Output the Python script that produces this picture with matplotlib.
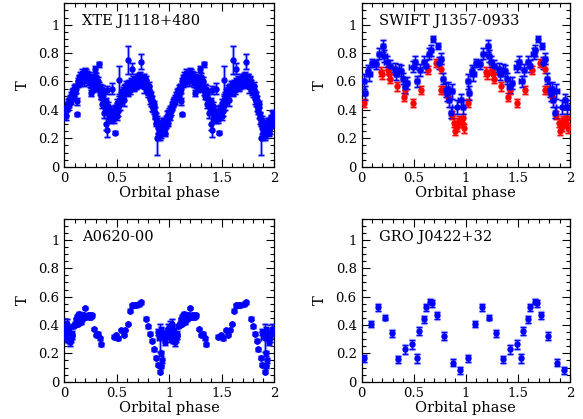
import matplotlib
matplotlib.use("Agg")
import matplotlib.pyplot as plt
import numpy as np
from matplotlib.ticker import MultipleLocator

# ---- XTE J1118+480 (phase 0-1, repeated for 1-2) ----
xte_phase_a = [0.00, 0.01, 0.02, 0.03, 0.04, 0.05, 0.06, 0.07, 0.08, 0.09,
               0.10, 0.11, 0.12, 0.13, 0.14, 0.15, 0.16, 0.17, 0.18, 0.19,
               0.20, 0.21, 0.22, 0.23, 0.24, 0.25, 0.26, 0.27, 0.28, 0.29,
               0.30, 0.31, 0.32, 0.33, 0.34, 0.35, 0.36, 0.37, 0.38, 0.39,
               0.40, 0.41, 0.42, 0.43, 0.44, 0.45, 0.46, 0.47, 0.48, 0.49,
               0.50, 0.51, 0.52, 0.53, 0.54, 0.55, 0.56, 0.57, 0.58, 0.59,
               0.60, 0.61, 0.62, 0.63, 0.64, 0.65, 0.66, 0.67, 0.68, 0.69,
               0.70, 0.71, 0.72, 0.73, 0.74, 0.75, 0.76, 0.77, 0.78, 0.79,
               0.80, 0.81, 0.82, 0.83, 0.84, 0.85, 0.86, 0.87, 0.88, 0.89,
               0.90, 0.91, 0.92, 0.93, 0.94, 0.95, 0.96, 0.97, 0.98, 0.99]
xte_T_a = [0.38, 0.36, 0.41, 0.42, 0.44, 0.47, 0.46, 0.49, 0.51, 0.50,
           0.53, 0.55, 0.37, 0.58, 0.61, 0.59, 0.63, 0.62, 0.65, 0.60,
           0.64, 0.66, 0.61, 0.63, 0.59, 0.52, 0.62, 0.60, 0.57, 0.69,
           0.63, 0.58, 0.60, 0.72, 0.55, 0.51, 0.44, 0.48, 0.38, 0.41,
           0.30, 0.26, 0.40, 0.36, 0.39, 0.55, 0.37, 0.34, 0.24, 0.38,
           0.36, 0.39, 0.61, 0.44, 0.48, 0.51, 0.53, 0.47, 0.55, 0.57,
           0.54, 0.75, 0.58, 0.56, 0.69, 0.59, 0.57, 0.60, 0.58, 0.62,
           0.60, 0.63, 0.59, 0.74, 0.61, 0.62, 0.56, 0.60, 0.58, 0.55,
           0.52, 0.54, 0.48, 0.46, 0.43, 0.40, 0.38, 0.34, 0.20, 0.27,
           0.24, 0.22, 0.28, 0.26, 0.30, 0.29, 0.27, 0.32, 0.35, 0.37]
xte_err_a = [0.03, 0.03, 0.02, 0.02, 0.02, 0.02, 0.02, 0.02, 0.02, 0.02,
             0.02, 0.03, 0.01, 0.02, 0.03, 0.02, 0.02, 0.02, 0.02, 0.03,
             0.02, 0.03, 0.02, 0.02, 0.03, 0.02, 0.03, 0.02, 0.03, 0.02,
             0.03, 0.02, 0.03, 0.02, 0.03, 0.03, 0.03, 0.03, 0.04, 0.03,
             0.04, 0.05, 0.03, 0.03, 0.04, 0.04, 0.03, 0.03, 0.01, 0.03,
             0.03, 0.03, 0.10, 0.04, 0.03, 0.03, 0.03, 0.04, 0.03, 0.03,
             0.03, 0.10, 0.03, 0.03, 0.04, 0.03, 0.03, 0.03, 0.03, 0.03,
             0.03, 0.03, 0.03, 0.05, 0.03, 0.03, 0.04, 0.03, 0.03, 0.03,
             0.03, 0.03, 0.04, 0.03, 0.04, 0.03, 0.04, 0.04, 0.12, 0.04,
             0.04, 0.03, 0.04, 0.04, 0.04, 0.05, 0.04, 0.04, 0.04, 0.03]
xte_phase_b = [0.005, 0.015, 0.025, 0.035, 0.045, 0.055, 0.065, 0.075, 0.085, 0.095,
               0.105, 0.115, 0.125, 0.135, 0.145, 0.155, 0.165, 0.175, 0.185, 0.195,
               0.205, 0.215, 0.225, 0.235, 0.245, 0.255, 0.265, 0.275, 0.285, 0.295,
               0.305, 0.315, 0.325, 0.335, 0.345, 0.355, 0.365, 0.375, 0.385, 0.395,
               0.405, 0.415, 0.425, 0.435, 0.445, 0.455, 0.465, 0.475, 0.485, 0.495,
               0.505, 0.515, 0.525, 0.535, 0.545, 0.555, 0.565, 0.575, 0.585, 0.595,
               0.605, 0.615, 0.625, 0.635, 0.645, 0.655, 0.665, 0.675, 0.685, 0.695,
               0.705, 0.715, 0.725, 0.735, 0.745, 0.755, 0.765, 0.775, 0.785, 0.795,
               0.805, 0.815, 0.825, 0.835, 0.845, 0.855, 0.865, 0.875, 0.885, 0.895,
               0.905, 0.915, 0.925, 0.935, 0.945, 0.955, 0.965, 0.975, 0.985, 0.995]
xte_T_b = [0.40, 0.39, 0.43, 0.45, 0.46, 0.48, 0.50, 0.52, 0.53, 0.55,
           0.56, 0.46, 0.60, 0.62, 0.64, 0.61, 0.66, 0.64, 0.62, 0.67,
           0.63, 0.65, 0.60, 0.64, 0.62, 0.58, 0.61, 0.55, 0.62, 0.59,
           0.61, 0.56, 0.57, 0.53, 0.50, 0.55, 0.52, 0.45, 0.42, 0.46,
           0.54, 0.43, 0.35, 0.38, 0.33, 0.36, 0.35, 0.37, 0.41, 0.40,
           0.45, 0.42, 0.47, 0.50, 0.52, 0.49, 0.55, 0.53, 0.56, 0.58,
           0.52, 0.57, 0.54, 0.60, 0.58, 0.61, 0.56, 0.59, 0.61, 0.58,
           0.62, 0.60, 0.64, 0.62, 0.58, 0.63, 0.59, 0.61, 0.56, 0.53,
           0.57, 0.51, 0.50, 0.47, 0.41, 0.44, 0.36, 0.31, 0.33, 0.21,
           0.29, 0.25, 0.23, 0.27, 0.32, 0.24, 0.30, 0.34, 0.31, 0.36]

# ---- SWIFT J1357-0933 ----
sw_blue_phase = [0.02, 0.03, 0.06, 0.07, 0.10, 0.14, 0.17, 0.21, 0.22, 0.24,
                 0.27, 0.32, 0.33, 0.36, 0.38, 0.40, 0.42, 0.44, 0.49, 0.51,
                 0.535, 0.56, 0.60, 0.62, 0.65, 0.665, 0.69, 0.73, 0.74, 0.76,
                 0.78, 0.81, 0.82, 0.83, 0.84, 0.86, 0.87, 0.92, 0.95, 0.97]
sw_blue_T = [0.60, 0.52, 0.675, 0.65, 0.73, 0.72, 0.795, 0.85, 0.78, 0.74,
             0.71, 0.69, 0.65, 0.68, 0.675, 0.62, 0.56, 0.59, 0.705, 0.74,
             0.60, 0.68, 0.74, 0.71, 0.795, 0.82, 0.90, 0.85, 0.73, 0.76,
             0.62, 0.54, 0.51, 0.545, 0.47, 0.38, 0.53, 0.42, 0.47, 0.42]
sw_blue_xerr = [0.02, 0.02, 0.02, 0.03, 0.02, 0.02, 0.02, 0.02, 0.02, 0.02,
                0.02, 0.02, 0.02, 0.02, 0.02, 0.02, 0.02, 0.02, 0.03, 0.02,
                0.02, 0.02, 0.02, 0.02, 0.02, 0.02, 0.01, 0.01, 0.02, 0.02,
                0.02, 0.02, 0.02, 0.02, 0.02, 0.02, 0.02, 0.05, 0.02, 0.02]
sw_blue_yerr = [0.05, 0.05, 0.04, 0.05, 0.03, 0.03, 0.04, 0.04, 0.04, 0.04,
                0.04, 0.04, 0.04, 0.04, 0.04, 0.04, 0.04, 0.04, 0.04, 0.04,
                0.04, 0.04, 0.04, 0.04, 0.04, 0.04, 0.02, 0.02, 0.04, 0.04,
                0.04, 0.05, 0.05, 0.05, 0.05, 0.04, 0.05, 0.05, 0.04, 0.05]
sw_red_phase = [0.02, 0.19, 0.20, 0.25, 0.26, 0.27, 0.34, 0.41, 0.42, 0.49,
                0.57, 0.64, 0.71, 0.76, 0.76, 0.79, 0.83, 0.87, 0.89, 0.90,
                0.92, 0.935, 0.96, 0.97, 0.985]
sw_red_T = [0.45, 0.67, 0.65, 0.68, 0.65, 0.62, 0.565, 0.49, 0.54, 0.45,
            0.54, 0.68, 0.73, 0.69, 0.54, 0.54, 0.49, 0.365, 0.31, 0.25,
            0.28, 0.33, 0.31, 0.34, 0.27]

# ---- A0620-00 ----
a_phase = [0.000, 0.005, 0.010, 0.015, 0.020, 0.025, 0.030, 0.035, 0.040, 0.045,
           0.050, 0.055, 0.060, 0.065, 0.070, 0.075, 0.080, 0.090, 0.100, 0.105,
           0.110, 0.115, 0.120, 0.125, 0.130, 0.135, 0.140, 0.145, 0.150, 0.155,
           0.160, 0.170, 0.175, 0.180, 0.190, 0.200, 0.210, 0.220, 0.230, 0.240,
           0.250, 0.260, 0.286, 0.305, 0.320, 0.337, 0.353, 0.470, 0.490, 0.515,
           0.540, 0.565, 0.580, 0.604, 0.623, 0.640, 0.660, 0.680, 0.710, 0.720,
           0.735, 0.780, 0.797, 0.820, 0.835, 0.850, 0.875, 0.890, 0.910, 0.920,
           0.920, 0.930, 0.890, 0.905, 0.920, 0.940, 0.955, 0.960, 0.980, 0.985,
           0.910]
a_T = [0.36, 0.32, 0.39, 0.34, 0.30, 0.41, 0.37, 0.33, 0.29, 0.35,
       0.31, 0.28, 0.33, 0.30, 0.34, 0.32, 0.39, 0.40, 0.41, 0.40,
       0.44, 0.42, 0.46, 0.41, 0.47, 0.43, 0.48, 0.45, 0.47, 0.42,
       0.46, 0.44, 0.47, 0.45, 0.47, 0.52, 0.46, 0.47, 0.46, 0.47,
       0.46, 0.47, 0.372, 0.33, 0.338, 0.306, 0.264, 0.318, 0.33, 0.306,
       0.365, 0.33, 0.365, 0.407, 0.50, 0.54, 0.54, 0.54, 0.545, 0.555,
       0.56, 0.445, 0.39, 0.34, 0.29, 0.23, 0.17, 0.12, 0.07, 0.11,
       0.20, 0.15, 0.35, 0.345, 0.365, 0.33, 0.28, 0.31, 0.35, 0.375,
       0.31]
a_err = [0.03, 0.02, 0.04, 0.02, 0.02, 0.03, 0.02, 0.02, 0.02, 0.02,
         0.03, 0.03, 0.02, 0.02, 0.02, 0.02, 0.01, 0.01, 0.01, 0.01,
         0.01, 0.01, 0.01, 0.01, 0.01, 0.01, 0.01, 0.01, 0.01, 0.01,
         0.01, 0.01, 0.01, 0.01, 0.01, 0.01, 0.01, 0.01, 0.01, 0.01,
         0.01, 0.01, 0.01, 0.01, 0.01, 0.01, 0.01, 0.01, 0.01, 0.01,
         0.01, 0.01, 0.01, 0.01, 0.01, 0.01, 0.01, 0.01, 0.01, 0.01,
         0.01, 0.01, 0.01, 0.01, 0.01, 0.01, 0.01, 0.01, 0.01, 0.01,
         0.02, 0.02, 0.02, 0.02, 0.02, 0.03, 0.02, 0.03, 0.03, 0.03,
         0.10]
a_xerr = [0.0] * 80 + [0.03]

# ---- GRO J0422+32 ----
gro_phase = [0.022, 0.087, 0.157, 0.224, 0.288, 0.353, 0.420, 0.487, 0.530, 0.551,
             0.596, 0.619, 0.660, 0.680, 0.724, 0.792, 0.880, 0.946]
gro_T = [0.165, 0.405, 0.525, 0.452, 0.341, 0.158, 0.228, 0.264, 0.165, 0.358,
         0.442, 0.525, 0.565, 0.553, 0.470, 0.322, 0.134, 0.082]
gro_err = [0.025, 0.02, 0.025, 0.02, 0.025, 0.025, 0.03, 0.03, 0.03, 0.025,
           0.025, 0.025, 0.02, 0.025, 0.025, 0.03, 0.025, 0.025]


def twice(a, shift=True):
    a = np.asarray(a, dtype=float)
    return np.concatenate([a, a + 1.0]) if shift else np.concatenate([a, a])


def errplot(ax, x, y, yerr, xerr=None, color="blue", halo="#8c8cff"):
    # light wide bars underneath to mimic the soft look of the original
    ax.errorbar(x, y, yerr=yerr, xerr=xerr, fmt="none", ecolor=halo,
                elinewidth=2.4, capsize=2.5, capthick=2.4, alpha=0.6, zorder=2)
    ax.errorbar(x, y, yerr=yerr, xerr=xerr, fmt="o", color=color, ms=3.6,
                mec=color, ecolor=color, elinewidth=1.0, capsize=2.2,
                capthick=1.0, zorder=3)


def style(ax, label):
    ax.set_xlim(0, 2)
    ax.set_ylim(0, 1.15)
    ax.xaxis.set_minor_locator(MultipleLocator(0.1))
    ax.yaxis.set_minor_locator(MultipleLocator(0.05))
    ax.set_xticks([0, 0.5, 1, 1.5, 2])
    ax.set_xticklabels(["0", "0.5", "1", "1.5", "2"])
    ax.set_yticks([0, 0.2, 0.4, 0.6, 0.8, 1.0])
    ax.set_yticklabels(["0", "0.2", "0.4", "0.6", "0.8", "1"])
    ax.tick_params(which="both", direction="in", top=True, right=True,
                   labelsize=9.5, width=0.8)
    ax.tick_params(which="major", length=6)
    ax.tick_params(which="minor", length=3)
    for s in ax.spines.values():
        s.set_linewidth(0.9)
    ax.set_xlabel("Orbital phase", fontsize=10.5, labelpad=1)
    ax.set_ylabel("T", fontsize=10.5, labelpad=6)
    ax.text(0.085, 0.89, label, transform=ax.transAxes, fontsize=10.5,
            va="center", ha="left")


plt.rcParams["font.family"] = "DejaVu Serif"
fig = plt.figure(figsize=(5.83, 4.19), dpi=100)
ax1 = fig.add_axes([0.1106, 0.6021, 0.3593, 0.39])
ax2 = fig.add_axes([0.6201, 0.6021, 0.3576, 0.39])
ax3 = fig.add_axes([0.1106, 0.0890, 0.3593, 0.389])
ax4 = fig.add_axes([0.6201, 0.0890, 0.3576, 0.389])

# XTE J1118+480
errplot(ax1, twice(xte_phase_a), twice(xte_T_a, False), twice(xte_err_a, False))
errplot(ax1, twice(xte_phase_b), twice(xte_T_b, False), 0.025)
style(ax1, "XTE J1118+480")

# SWIFT J1357-0933
errplot(ax2, twice(sw_red_phase), twice(sw_red_T, False), 0.03, color="red",
        halo="#ff8c8c")
errplot(ax2, twice(sw_blue_phase), twice(sw_blue_T, False),
        twice(sw_blue_yerr, False), xerr=twice(sw_blue_xerr, False))
style(ax2, "SWIFT J1357-0933")

# A0620-00
errplot(ax3, twice(a_phase), twice(a_T, False), twice(a_err, False),
        xerr=twice(a_xerr, False))
style(ax3, "A0620-00")

# GRO J0422+32
errplot(ax4, twice(gro_phase), twice(gro_T, False), twice(gro_err, False))
style(ax4, "GRO J0422+32")

fig.savefig("out.png", dpi=100)
